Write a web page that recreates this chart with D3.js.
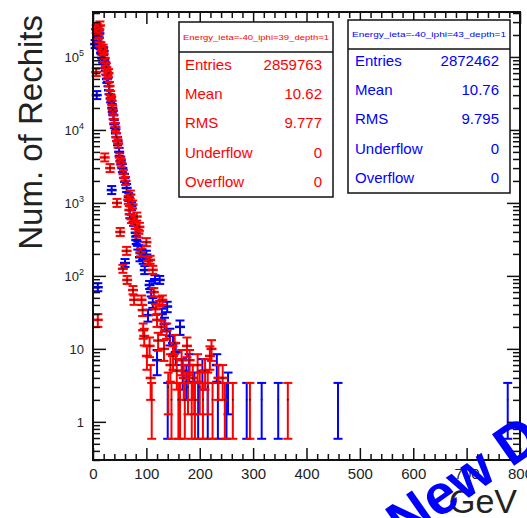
<!DOCTYPE html>
<html>
<head>
<meta charset="utf-8">
<script src="https://cdn.jsdelivr.net/npm/d3@7"></script>
<style>
  body { margin: 0; background: #fff; }
  text { font-family: "Liberation Sans", Arial, sans-serif; }
</style>
</head>
<body>
<svg id="chart" width="527" height="518"></svg>
<script>
// bin centre (GeV) and content
const redGeV = [6, 8, 9, 10, 11, 12, 13, 15, 17, 19, 21, 22, 23, 25, 27, 29, 31, 32, 33, 35, 37, 39, 42, 44, 45, 47, 50, 51, 53, 56, 57, 61, 63, 64, 66, 68, 70, 72, 74, 75, 77, 79, 82, 85, 87, 89, 91, 93, 94, 96, 100, 101, 103, 106, 107, 108, 110, 112, 114, 117, 120, 122, 125, 128, 130, 133, 138, 141, 145, 147, 150, 153, 157, 160, 163, 166, 170, 172, 176, 178, 181, 185, 187, 191, 196, 200, 206, 210, 215, 219, 222, 224, 235, 243, 247, 262, 294, 365];
const redCounts = [62000, 250000, 25, 200000, 230000, 160000, 270000, 140000, 120000, 130000, 97000, 4200, 85000, 72000, 56000, 60000, 40000, 3000, 30000, 25000, 19000, 14000, 11000, 8000, 1000, 6500, 4200, 400, 3500, 125, 2500, 2000, 220, 88, 1100, 800, 1300, 600, 950, 64, 47, 500, 650, 380, 470, 210, 47, 34, 18, 15, 290, 8, 160, 11, 166, 4, 2, 121, 60, 35, 25, 13, 45, 20, 47, 10, 18, 3, 6, 2, 8, 12, 5, 2, 2, 7, 4, 2, 11, 3, 7, 2, 4, 2, 6, 3, 2, 5, 3, 8, 10, 2, 4, 4, 2, 2, 2, 2];

const blueGeV = [4, 6, 7, 8, 9, 10, 12, 14, 16, 18, 20, 22, 24, 26, 28, 30, 33, 35, 36, 38, 40, 43, 46, 49, 52, 55, 59, 60, 63, 67, 69, 72, 76, 80, 81, 84, 88, 91, 94, 97, 100, 103, 106, 109, 112, 116, 120, 125, 129, 134, 139, 140, 144, 150, 155, 163, 168, 175, 180, 190, 197, 205, 215, 232, 234, 250, 253, 288, 316, 347, 459, 777];
const blueCounts = [150000, 240000, 30000, 190000, 70, 160000, 210000, 130000, 110000, 95000, 120000, 80000, 65000, 50000, 45000, 35000, 27000, 1500, 20000, 16000, 12000, 9000, 7000, 5000, 3800, 3000, 2200, 150, 1600, 1200, 700, 900, 550, 390, 310, 260, 180, 230, 166, 120, 195, 29, 75, 60, 43, 90, 7, 88, 30, 22, 38, 2, 15, 12, 9, 20, 5, 4, 6, 3, 2, 5, 2, 6, 2, 2, 3, 2, 2, 2, 2, 2];

const xMajor = [0, 100, 200, 300, 400, 500, 600, 700, 800];
const yDecades = [1, 10, 100, 1000, 10000, 100000];

const redTitle = "Energy_ieta=-40_iphi=39_depth=1";
const blueTitle = "Energy_ieta=-40_iphi=43_depth=1";
const statNames = ["Entries", "Mean", "RMS", "Underflow", "Overflow"];
const redStats = ["2859763", "10.62", "9.777", "0", "0"];
const blueStats = ["2872462", "10.76", "9.795", "0", "0"];

const svg = d3.select("#chart");
const frame = { left: 93, right: 520, top: 12, bottom: 460 };

const x = d3.scaleLinear().domain([0, 800]).range([frame.left, frame.right]);
const y = d3.scaleLog().domain([0.3, 4.13e5]).range([frame.bottom, frame.top]);

const xMinor = d3.range(0, 801, 20).filter(v => v % 100 !== 0);
const yMinor = [];
[-1, 0, 1, 2, 3, 4, 5].forEach(p => {
    for (let m = 2; m <= 9; m++) {
        const v = m * Math.pow(10, p);
        if (v > 0.3 && v < 4.13e5) yMinor.push(v);
    }
});

// histograms: blue first, red on top
function drawHist(gx, gy, color) {
    const pts = gx.map((v, i) => ({ e: v, n: gy[i] }));
    const g = svg.append("g");
    pts.forEach(d => {
        const cx = x(d.e);
        const cy = y(d.n);
        const err = Math.sqrt(d.n);
        let top = y(d.n + err);
        let bot = d.n - err > 0.3 ? y(d.n - err) : frame.bottom;
        top = Math.min(top, cy - 4);
        bot = Math.max(bot, cy + 4);
        g.append("line")
            .attr("x1", cx).attr("x2", cx)
            .attr("y1", top).attr("y2", bot)
            .attr("stroke", color).attr("stroke-width", 2);
        [top, bot].forEach(yy => {
            g.append("line")
                .attr("x1", cx - 4.5).attr("x2", cx + 4.5)
                .attr("y1", yy).attr("y2", yy)
                .attr("stroke", color).attr("stroke-width", 2);
        });
        if (d.n > 3) {
            g.append("line")
                .attr("x1", cx - 5).attr("x2", cx + 5)
                .attr("y1", cy).attr("y2", cy)
                .attr("stroke", color).attr("stroke-width", 2.5);
        }
        g.append("circle")
            .attr("cx", cx).attr("cy", cy).attr("r", 1)
            .attr("fill", "#222");
    });
}
drawHist(blueGeV, blueCounts, "#0000ff");
drawHist(redGeV, redCounts, "#ff0000");

// axes, ticks inward like ROOT
const tickStyle = sel => {
    sel.select(".domain").remove();
    sel.selectAll("line").attr("stroke", "#111").attr("stroke-width", 1.5);
};

svg.append("g")
    .attr("transform", `translate(0,${frame.bottom})`)
    .call(d3.axisBottom(x).tickValues(xMajor).tickSize(-12).tickPadding(8).tickFormat(d3.format("d")))
    .call(tickStyle)
    .call(g => g.selectAll("text").attr("font-size", 15).attr("fill", "#222")
        .attr("font-family", "'Liberation Sans', Arial, sans-serif"));
svg.append("g")
    .attr("transform", `translate(0,${frame.bottom})`)
    .call(d3.axisBottom(x).tickValues(xMinor).tickSize(-6).tickFormat(""))
    .call(tickStyle);
svg.append("g")
    .attr("transform", `translate(0,${frame.top})`)
    .call(d3.axisTop(x).tickValues(xMajor).tickSize(-12).tickFormat(""))
    .call(tickStyle);
svg.append("g")
    .attr("transform", `translate(0,${frame.top})`)
    .call(d3.axisTop(x).tickValues(xMinor).tickSize(-6).tickFormat(""))
    .call(tickStyle);

svg.append("g")
    .attr("transform", `translate(${frame.left},0)`)
    .call(d3.axisLeft(y).tickValues(yDecades).tickSize(-13).tickFormat(""))
    .call(tickStyle);
svg.append("g")
    .attr("transform", `translate(${frame.left},0)`)
    .call(d3.axisLeft(y).tickValues(yMinor).tickSize(-7).tickFormat(""))
    .call(tickStyle);
svg.append("g")
    .attr("transform", `translate(${frame.right},0)`)
    .call(d3.axisRight(y).tickValues(yDecades).tickSize(-13).tickFormat(""))
    .call(tickStyle);
svg.append("g")
    .attr("transform", `translate(${frame.right},0)`)
    .call(d3.axisRight(y).tickValues(yMinor).tickSize(-7).tickFormat(""))
    .call(tickStyle);

// y tick labels with superscripts
yDecades.forEach(d => {
    const p = Math.round(Math.log10(d));
    const t = svg.append("text")
        .attr("x", 84).attr("y", y(d) + 5)
        .attr("text-anchor", "end")
        .attr("font-size", 13).attr("fill", "#222");
    if (p < 2) {
        t.text(String(d));
    } else {
        t.append("tspan").text("10");
        t.append("tspan").attr("dy", -6).attr("font-size", 9).text(String(p));
    }
});

// frame
svg.append("rect")
    .attr("x", frame.left).attr("y", frame.top)
    .attr("width", frame.right - frame.left).attr("height", frame.bottom - frame.top)
    .attr("fill", "none").attr("stroke", "#111").attr("stroke-width", 2);

// axis titles
svg.append("text")
    .attr("transform", `translate(42,15) rotate(-90)`)
    .attr("text-anchor", "end")
    .attr("font-size", 33).attr("fill", "#222")
    .text("Num. of Rechits");
svg.append("text")
    .attr("x", 517).attr("y", 513)
    .attr("text-anchor", "end")
    .attr("font-size", 34).attr("fill", "#222")
    .text("GeV");

// stat boxes
function statBox(box, title, values, color) {
    const g = svg.append("g");
    g.append("rect")
        .attr("x", box.x).attr("y", box.y).attr("width", box.w).attr("height", box.h)
        .attr("fill", "#fff").attr("stroke", "#111").attr("stroke-width", 1.5);
    g.append("line")
        .attr("x1", box.x).attr("x2", box.x + box.w)
        .attr("y1", box.sep).attr("y2", box.sep)
        .attr("stroke", "#111").attr("stroke-width", 1.5);
    g.append("text")
        .attr("x", box.x + box.w / 2).attr("y", box.titleY)
        .attr("text-anchor", "middle")
        .attr("font-size", 8).attr("fill", color)
        .attr("textLength", box.w - 8).attr("lengthAdjust", "spacingAndGlyphs")
        .text(title);
    statNames.forEach((name, i) => {
        const yy = box.row0 + i * box.step;
        g.append("text")
            .attr("x", box.labelX).attr("y", yy)
            .attr("font-size", 15).attr("fill", color)
            .text(name);
        g.append("text")
            .attr("x", box.valueX).attr("y", yy)
            .attr("text-anchor", "end")
            .attr("font-size", 15).attr("fill", color)
            .text(values[i]);
    });
}
statBox({ x: 179, y: 22, w: 154, h: 175, sep: 52, titleY: 40, row0: 70, step: 29.2, labelX: 185, valueX: 322 },
    redTitle, redStats, "#ff0000");
statBox({ x: 348, y: 20, w: 162, h: 173, sep: 49, titleY: 37, row0: 66, step: 29.2, labelX: 355, valueX: 499 },
    blueTitle, blueStats, "#0000ff");

// blue overlay lettering at the bottom right corner
svg.append("text")
    .attr("transform", "translate(404,543) rotate(-35)")
    .attr("font-size", 56).attr("font-weight", "bold").attr("fill", "#0000ff")
    .text("New Data");
</script>
</body>
</html>
